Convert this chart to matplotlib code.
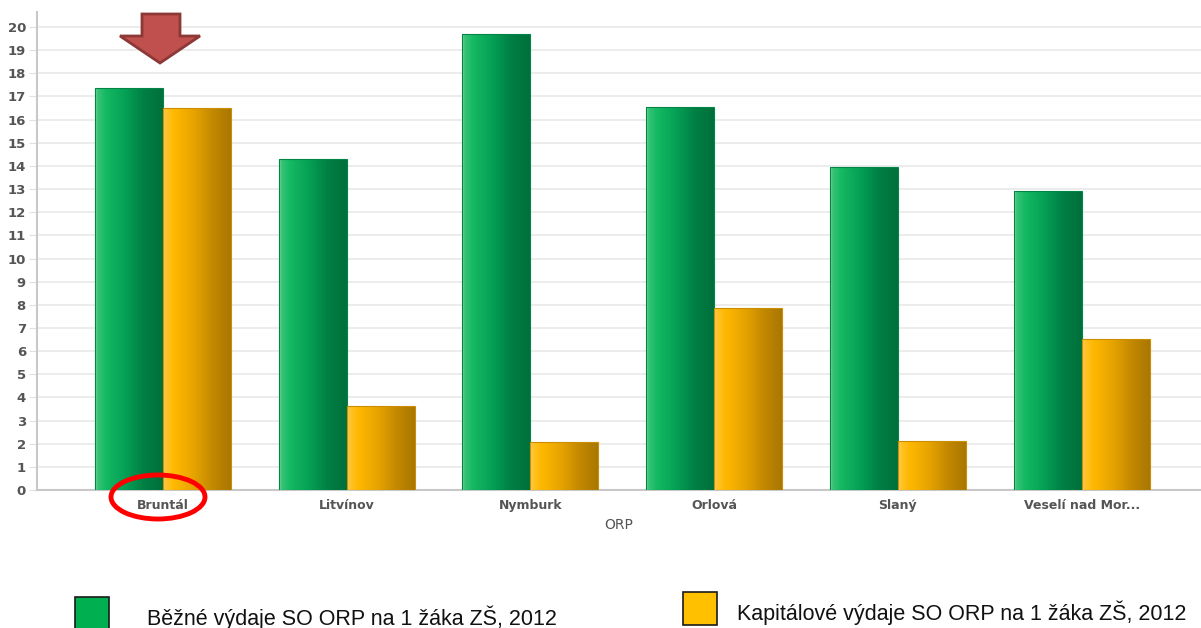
import numpy as np
import matplotlib
matplotlib.use("Agg")
import matplotlib.pyplot as plt
from matplotlib.patches import Polygon, Ellipse, Rectangle
from matplotlib.colors import LinearSegmentedColormap

# data
orp = ["Bruntál", "Litvínov", "Nymburk", "Orlová", "Slaný", "Veselí nad Mor..."]
bezne = [17.37, 14.3, 19.7, 16.55, 13.95, 12.92]
kapitalove = [16.5, 3.63, 2.07, 7.86, 2.12, 6.52]
series_names = ["Běžné výdaje SO ORP na 1 žáka ZŠ, 2012",
                "Kapitálové výdaje SO ORP na 1 žáka ZŠ, 2012"]

W, H = 1201, 628
fig = plt.figure(figsize=(W / 100, H / 100), dpi=100)
ax = fig.add_axes([37 / W, (H - 490) / H, 1 - 37 / W, (490 - 12) / H])

green_cm = LinearSegmentedColormap.from_list("g", ["#5fd08e", "#14b862", "#05a055", "#007f44", "#00703b"])
orange_cm = LinearSegmentedColormap.from_list("o", ["#ffd060", "#ffb800", "#e8a500", "#c48900", "#a97700"])
grad = np.linspace(0, 1, 256)
grad = np.where(grad < 0.03, 0.0, 0.1 + 0.9 * grad).reshape(1, -1)

x = np.arange(len(orp))
bw = 0.37
ax.set_xlim(-0.686, 5.65)
ax.set_ylim(0, 20.65)

def grad_bar(xc, h, cmap):
    r = ax.bar(xc, h, width=bw, color="none", edgecolor="none", zorder=2)[0]
    x0 = r.get_x()
    im = ax.imshow(grad, cmap=cmap, aspect="auto", extent=[x0, x0 + bw, 0, h],
                   zorder=3, interpolation="bilinear", vmin=0, vmax=1)
    im.set_clip_path(r)
    ax.add_patch(Rectangle((x0, 0), bw, h, fill=False, edgecolor=cmap(0.7), lw=0.8, zorder=4))

for i in range(len(orp)):
    grad_bar(x[i] - bw / 2, bezne[i], green_cm)
    grad_bar(x[i] + bw / 2, kapitalove[i], orange_cm)

ax.set_yticks(range(0, 21))
ax.yaxis.grid(True, color="#e9e9e9", lw=1.2, zorder=0)
ax.set_axisbelow(True)
for s in ["top", "right"]:
    ax.spines[s].set_visible(False)
for s in ["left", "bottom"]:
    ax.spines[s].set_color("#c8c8c8")
    ax.spines[s].set_linewidth(1.5)
ax.tick_params(axis="y", length=6, color="#e0e0e0", labelsize=9.5, labelcolor="#555555", pad=2)
ax.tick_params(axis="x", length=0, labelsize=9, labelcolor="#555555", pad=14)
for lab in ax.get_yticklabels():
    lab.set_fontweight("bold")
ax.set_xticks(x)
ax.set_xticklabels(orp, fontweight="bold", va="baseline")
ax.set_xlabel("ORP", fontsize=10, color="#555555", labelpad=4)

# annotation: arrow and ellipse (pixel coordinates)
def px(xx, yy):
    return (xx / W, (H - yy) / H)

arrow = [px(142, 14), px(180, 14), px(180, 36), px(200, 36), px(160, 63),
         px(120, 36), px(142, 36)]
fig.add_artist(Polygon(arrow, closed=True, facecolor="#c0504d", edgecolor="#8c3836",
                       lw=2, transform=fig.transFigure))
fig.add_artist(Ellipse(px(158, 497), 94 / W, 44 / H, fill=False, edgecolor="#ff0000",
                       lw=3.5, transform=fig.transFigure))

# legend
fig.add_artist(Rectangle(px(75, 630), 34 / W, 33 / H, facecolor="#00b050", edgecolor="#1a1a1a",
                         lw=1.2, transform=fig.transFigure))
fig.add_artist(Rectangle(px(683, 625), 34 / W, 33 / H, facecolor="#ffc000", edgecolor="#1a1a1a",
                         lw=1.2, transform=fig.transFigure))
fig.text(*px(147, 618), series_names[0], fontsize=15.5, family="Liberation Sans",
         va="center", ha="left", color="#111111")
fig.text(*px(737, 613), series_names[1], fontsize=15.5, family="Liberation Sans",
         va="center", ha="left", color="#111111")

fig.savefig("out.png", dpi=100)
